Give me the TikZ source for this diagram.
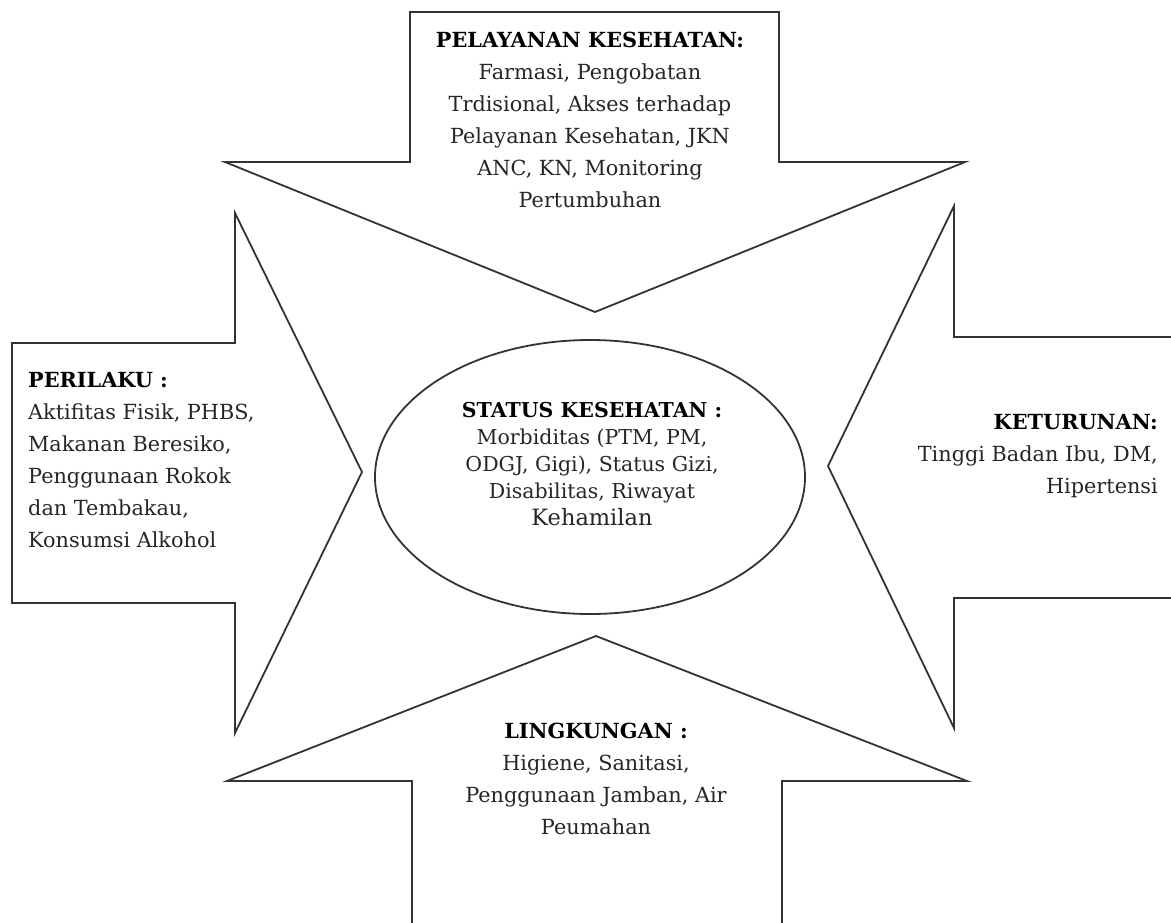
\documentclass[tikz,border=0pt]{standalone}
\usepackage{fontspec}
\setmainfont{DejaVu Serif}
\usetikzlibrary{shapes.geometric}
\begin{document}
\begin{tikzpicture}[x=1pt,y=-1pt,
  arrowshape/.style={draw=black!80, line width=1.8pt, line join=miter, fill=white},
  lbl/.style={align=center, font=\fontsize{20.8}{32}\selectfont, text=black!85, inner sep=0pt},
  hd/.style={font=\bfseries, text=black}]
\useasboundingbox (0,0) rectangle (1171,922);
\clip (0,0) rectangle (1171,922);
% top arrow
\draw[arrowshape] (410,12) -- (779,12) -- (779,162) -- (965,162) -- (595,312) -- (225,162) -- (410,162) -- cycle;
% left arrow
\draw[arrowshape] (12,343) -- (235,343) -- (235,213) -- (362,472) -- (235,733) -- (235,603) -- (12,603) -- cycle;
% right arrow
\draw[arrowshape] (1185,337) -- (954,337) -- (954,206) -- (828,466) -- (954,728) -- (954,598) -- (1185,598);
% bottom arrow
\draw[arrowshape] (412,935) -- (412,781) -- (227,781) -- (596,636) -- (967,781) -- (782,781) -- (782,935);
% ellipse
\node[ellipse, draw=black!80, line width=1.8pt, minimum width=430pt, minimum height=274pt, inner sep=0pt] (status) at (590,477) {};
\node[lbl, font=\fontsize{20.5}{27}\selectfont] (statustext) at (592,464) {{\bfseries\color{black}STATUS KESEHATAN :}\\Morbiditas (PTM, PM,\\ODGJ, Gigi), Status Gizi,\\Disabilitas, Riwayat\\{\fontsize{22.5}{27}\selectfont Kehamilan}};
\node[lbl] (pelayanan) at (590,120) {{\bfseries\color{black}PELAYANAN KESEHATAN:}\\Farmasi, Pengobatan\\Trdisional, Akses terhadap\\Pelayanan Kesehatan, JKN\\ANC, KN, Monitoring\\Pertumbuhan};
\node[lbl, align=left, anchor=west] (perilaku) at (28,460) {{\bfseries\color{black}PERILAKU :}\\Aktifitas Fisik, PHBS,\\Makanan Beresiko,\\Penggunaan Rokok\\dan Tembakau,\\Konsumsi Alkohol};
\node[lbl, align=right, anchor=east] (keturunan) at (1158,456) {{\bfseries\color{black}KETURUNAN:}\\Tinggi Badan Ibu, DM,\\Hipertensi};
\node[lbl] (lingkungan) at (596,779) {{\bfseries\color{black}LINGKUNGAN :}\\Higiene, Sanitasi,\\Penggunaan Jamban, Air\\Peumahan};
\end{tikzpicture}
\end{document}
